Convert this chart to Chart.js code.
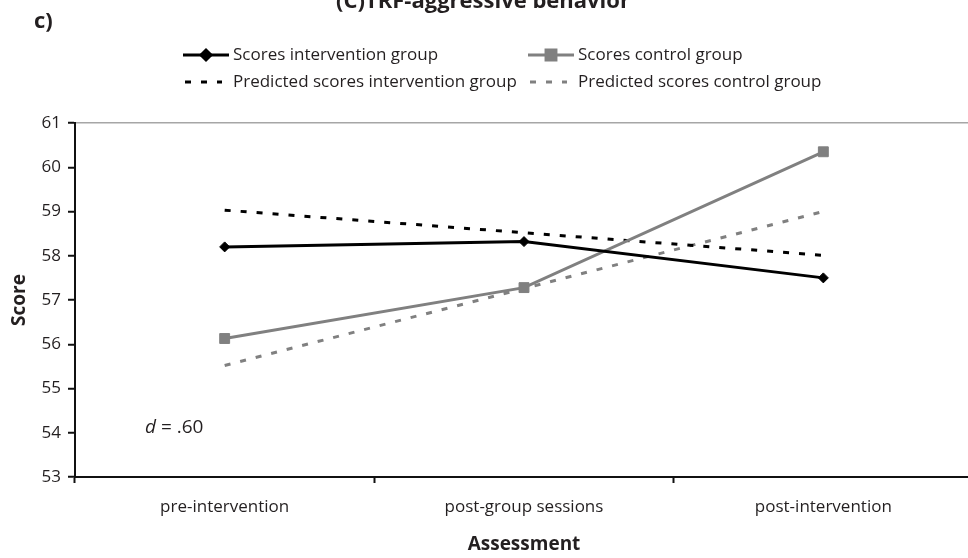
<!DOCTYPE html>
<html>
<head>
<meta charset="utf-8">
<script src="https://cdn.jsdelivr.net/npm/chart.js@4"></script>
<style>
  html, body { margin: 0; padding: 0; background: #fff; overflow: hidden; width: 968px; height: 558px; }
  #wrap { width: 981px; height: 558px; }
</style>
</head>
<body>
<div id="wrap"><canvas id="c" width="981" height="558"></canvas></div>
<script>
// Assessment points and mean TRF aggressive-behaviour scores
const assessments = ['pre-intervention', 'post-group sessions', 'post-intervention'];
const scoresIntervention = [58.2, 58.32, 57.5];
const scoresControl = [56.13, 57.28, 60.35];
const predictedIntervention = [59.03, 58.52, 58.01];
const predictedControl = [55.52, 57.26, 59.0];
const seriesNames = [
  'Scores intervention group',
  'Scores control group',
  'Predicted scores intervention group',
  'Predicted scores control group'
];
const yTicks = [53, 54, 55, 56, 57, 58, 59, 60, 61];
const effectSize = '.60';

const INK = '#231f20';
const GREY = '#808080';
const FONT = '"Open Sans", "Noto Sans", sans-serif';

// Figure title, panel letter, two-column legend and the effect-size note
const annotations = {
  id: 'annotations',
  afterDraw(chart) {
    const ctx = chart.ctx;
    ctx.save();
    ctx.fillStyle = INK;
    ctx.textBaseline = 'alphabetic';

    ctx.font = 'bold 22px ' + FONT;
    ctx.textAlign = 'center';
    ctx.fillText('(C)TRF-aggressive behavior', 483, 8);

    ctx.font = 'bold 22px ' + FONT;
    ctx.textAlign = 'left';
    ctx.fillText('c)', 34, 28);

    const slots = [
      { x: 183, y: 55 }, { x: 528, y: 55 },
      { x: 183, y: 82 }, { x: 528, y: 82 }
    ];
    chart.data.datasets.forEach((ds, i) => {
      const s = slots[i];
      const dashed = ds.borderDash && ds.borderDash.length;
      const x0 = s.x + (dashed ? 2 : 0), x1 = s.x + (dashed ? 39 : 46);
      ctx.save();
      ctx.strokeStyle = ds.borderColor;
      ctx.lineWidth = 3;
      ctx.setLineDash(ds.borderDash || []);
      ctx.beginPath();
      ctx.moveTo(x0, s.y);
      ctx.lineTo(x1, s.y);
      ctx.stroke();
      ctx.setLineDash([]);
      if (ds.pointRadius > 0) {
        ctx.fillStyle = ds.pointBackgroundColor;
        ctx.strokeStyle = ds.pointBorderColor;
        Chart.helpers.drawPoint(ctx, {
          pointStyle: ds.pointStyle, radius: ds.pointRadius, rotation: 0, borderWidth: 1
        }, (s.x + s.x + 46) / 2, s.y);
      }
      ctx.restore();
      ctx.font = '17px ' + FONT;
      ctx.fillStyle = INK;
      ctx.textAlign = 'left';
      ctx.textBaseline = 'middle';
      ctx.fillText(ds.label, s.x + 50, s.y);
    });

    // effect size: italic d
    ctx.textBaseline = 'alphabetic';
    ctx.textAlign = 'left';
    ctx.font = 'italic 19px ' + FONT;
    ctx.fillText('d', 145, 433);
    const dw = ctx.measureText('d').width;
    ctx.font = '19px ' + FONT;
    ctx.fillText(' = ' + effectSize, 145 + dw, 433);
    ctx.restore();
  }
};

new Chart(document.getElementById('c'), {
  type: 'line',
  data: {
    labels: assessments,
    datasets: [
      {
        label: seriesNames[0], data: scoresIntervention,
        borderColor: '#000', borderWidth: 3,
        pointStyle: 'rectRot', pointRadius: 5, pointHoverRadius: 5,
        pointBackgroundColor: '#000', pointBorderColor: '#000', pointBorderWidth: 1
      },
      {
        label: seriesNames[1], data: scoresControl,
        borderColor: GREY, borderWidth: 3,
        pointStyle: 'rect', pointRadius: 7, pointHoverRadius: 7,
        pointBackgroundColor: GREY, pointBorderColor: GREY, pointBorderWidth: 1
      },
      {
        label: seriesNames[2], data: predictedIntervention,
        borderColor: '#000', borderWidth: 3, borderDash: [6, 10],
        pointRadius: 0, pointHoverRadius: 0,
        pointBackgroundColor: '#000', pointBorderColor: '#000'
      },
      {
        label: seriesNames[3], data: predictedControl,
        borderColor: GREY, borderWidth: 3, borderDash: [6, 10],
        pointRadius: 0, pointHoverRadius: 0,
        pointBackgroundColor: GREY, pointBorderColor: GREY
      }
    ]
  },
  options: {
    responsive: false,
    animation: false,
    devicePixelRatio: 1,
    layout: { padding: { top: 123, left: 0, right: 0, bottom: 0 } },
    plugins: { legend: { display: false }, tooltip: { enabled: false } },
    elements: { line: { tension: 0 } },
    scales: {
      x: {
        type: 'category',
        offset: true,
        afterFit: s => { s.height = 81; },
        border: { display: true, color: '#111', width: 2 },
        grid: {
          offset: true, drawOnChartArea: false, drawTicks: true,
          color: 'rgba(0,0,0,0)', tickColor: '#111', tickLength: 6, tickWidth: 2
        },
        ticks: { color: INK, font: { family: FONT, size: 17 }, padding: 14, maxRotation: 0 },
        title: {
          display: true, text: 'Assessment', color: INK,
          font: { family: FONT, size: 19, weight: 'bold' }, padding: { top: 0, bottom: 2 }
        }
      },
      y: {
        min: 53, max: 61,
        afterFit: s => { s.width = 75; },
        afterBuildTicks: s => { s.ticks = yTicks.map(v => ({ value: v })); },
        border: { display: true, color: '#111', width: 2 },
        grid: {
          drawTicks: true, tickLength: 7, tickWidth: 2, tickColor: '#111',
          color: c => (c.tick && c.tick.value === 61) ? '#a6a6a6' : 'rgba(0,0,0,0)',
          lineWidth: 1.5
        },
        ticks: {
          color: INK, font: { family: FONT, size: 17 }, padding: 7,
          callback: v => String(v)
        },
        title: {
          display: true, text: 'Score', color: INK,
          font: { family: FONT, size: 19, weight: 'bold' }, padding: { top: 8, bottom: 0 }
        }
      }
    }
  },
  plugins: [annotations]
});
</script>
</body>
</html>
